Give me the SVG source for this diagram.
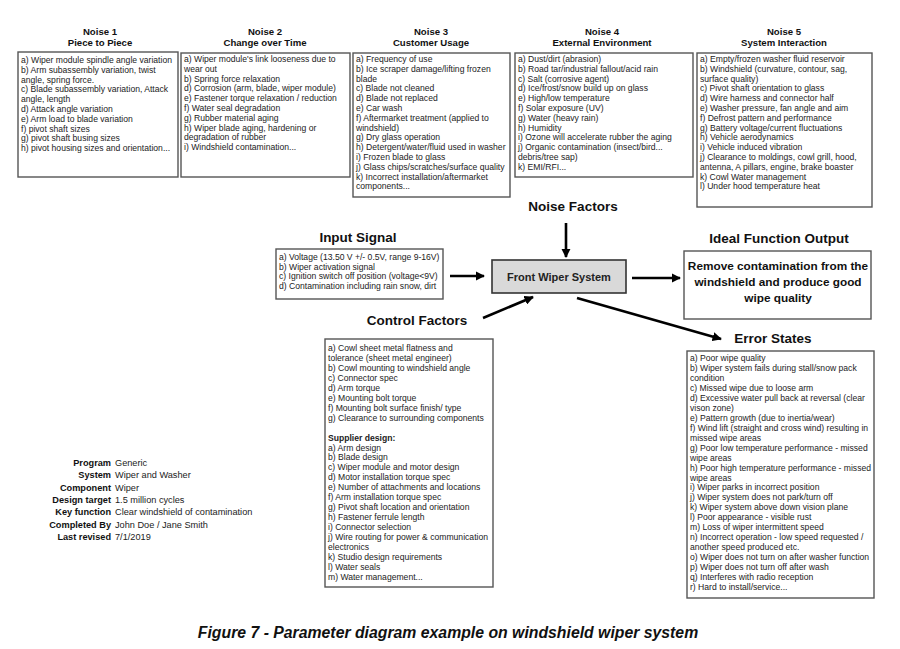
<svg xmlns="http://www.w3.org/2000/svg" width="900" height="649" viewBox="0 0 900 649">
<style>
.bg{fill:#fff}
.box{fill:#fff;stroke:#555;stroke-width:1.4}
.t{font-family:"Liberation Sans",Arial,sans-serif;font-size:8.6px;fill:#222}
.tb{font-family:"Liberation Sans",Arial,sans-serif;font-size:8.6px;fill:#222;font-weight:bold}
.nt{font-family:"Liberation Sans",Arial,sans-serif;font-size:9.6px;font-weight:bold;fill:#111;text-anchor:middle}
.h{font-family:"Liberation Sans",Arial,sans-serif;font-size:13.5px;font-weight:bold;fill:#111;text-anchor:middle}
.ideal{font-family:"Liberation Sans",Arial,sans-serif;font-size:11.8px;font-weight:bold;fill:#111;text-anchor:middle}
.lab{font-family:"Liberation Sans",Arial,sans-serif;font-size:9.2px;font-weight:bold;fill:#111;text-anchor:end}
.val{font-family:"Liberation Sans",Arial,sans-serif;font-size:9.2px;fill:#222}
.cap{font-family:"Liberation Sans",Arial,sans-serif;font-size:15.8px;font-weight:bold;font-style:italic;fill:#111;text-anchor:middle}
.arr{stroke:#000;stroke-width:2.6;fill:none;marker-end:url(#ah)}
</style>
<defs>
<marker id="ah" viewBox="0 0 10 10" refX="9" refY="5" markerWidth="3.6" markerHeight="3.6" orient="auto" markerUnits="strokeWidth">
<path d="M0,0 L10,5 L0,10 z" fill="#000"/>
</marker>
</defs>
<rect class="bg" x="0" y="0" width="900" height="649"/>

<g id="noise1">
<text class="nt" x="100" y="35">Noise 1</text>
<text class="nt" x="100" y="46">Piece to Piece</text>
<rect class="box" x="18" y="52" width="160" height="125"/>
<text class="t" x="21" y="63"><tspan x="21" dy="0">a) Wiper module spindle angle variation</tspan><tspan x="21" dy="9.8">b) Arm subassembly variation, twist</tspan><tspan x="21" dy="9.8">angle, spring force.</tspan><tspan x="21" dy="9.8">c) Blade subassembly variation, Attack</tspan><tspan x="21" dy="9.8">angle, length</tspan><tspan x="21" dy="9.8">d) Attack  angle variation</tspan><tspan x="21" dy="9.8">e) Arm load to  blade variation</tspan><tspan x="21" dy="9.8">f) pivot shaft sizes</tspan><tspan x="21" dy="9.8">g) pivot  shaft busing sizes</tspan><tspan x="21" dy="9.8">h) pivot housing sizes and orientation...</tspan></text>
</g>

<g id="noise2">
<text class="nt" x="265" y="35">Noise 2</text>
<text class="nt" x="265" y="46">Change over Time</text>
<rect class="box" x="181" y="53" width="169" height="124"/>
<text class="t" x="184" y="62"><tspan x="184" dy="0">a) Wiper module's link looseness due to</tspan><tspan x="184" dy="9.8">wear out</tspan><tspan x="184" dy="9.8">b) Spring force relaxation</tspan><tspan x="184" dy="9.8">d) Corrosion (arm, blade, wiper module)</tspan><tspan x="184" dy="9.8">e) Fastener torque relaxation / reduction</tspan><tspan x="184" dy="9.8">f) Water seal degradation</tspan><tspan x="184" dy="9.8">g) Rubber material aging</tspan><tspan x="184" dy="9.8">h) Wiper blade aging, hardening or</tspan><tspan x="184" dy="9.8">degradation of rubber</tspan><tspan x="184" dy="9.8">i) Windshield contamination...</tspan></text>
</g>

<g id="noise3">
<text class="nt" x="431" y="35">Noise 3</text>
<text class="nt" x="431" y="46">Customer Usage</text>
<rect class="box" x="353" y="53" width="157" height="144"/>
<text class="t" x="356" y="62"><tspan x="356" dy="0">a) Frequency of use</tspan><tspan x="356" dy="9.8">b) Ice scraper damage/lifting frozen</tspan><tspan x="356" dy="9.8">blade</tspan><tspan x="356" dy="9.8">c) Blade not cleaned</tspan><tspan x="356" dy="9.8">d) Blade not replaced</tspan><tspan x="356" dy="9.8">e) Car wash</tspan><tspan x="356" dy="9.8">f) Aftermarket treatment (applied to</tspan><tspan x="356" dy="9.8">windshield)</tspan><tspan x="356" dy="9.8">g) Dry glass operation</tspan><tspan x="356" dy="9.8">h) Detergent/water/fluid used in washer</tspan><tspan x="356" dy="9.8">i) Frozen  blade to glass</tspan><tspan x="356" dy="9.8">j) Glass chips/scratches/surface quality</tspan><tspan x="356" dy="9.8">k) Incorrect installation/aftermarket</tspan><tspan x="356" dy="9.8">components...</tspan></text>
</g>

<g id="noise4">
<text class="nt" x="602" y="35">Noise 4</text>
<text class="nt" x="602" y="46">External Environment</text>
<rect class="box" x="515" y="53" width="178" height="124"/>
<text class="t" x="518" y="62"><tspan x="518" dy="0">a) Dust/dirt (abrasion)</tspan><tspan x="518" dy="9.8">b) Road tar/industrial fallout/acid rain</tspan><tspan x="518" dy="9.8">c) Salt (corrosive agent)</tspan><tspan x="518" dy="9.8">d) Ice/frost/snow build up on glass</tspan><tspan x="518" dy="9.8">e) High/low temperature</tspan><tspan x="518" dy="9.8">f) Solar exposure (UV)</tspan><tspan x="518" dy="9.8">g) Water (heavy  rain)</tspan><tspan x="518" dy="9.8">h) Humidity</tspan><tspan x="518" dy="9.8">i) Ozone  will accelerate rubber the aging</tspan><tspan x="518" dy="9.8">j) Organic contamination (insect/bird...</tspan><tspan x="518" dy="9.8">debris/tree sap)</tspan><tspan x="518" dy="9.8">k) EMI/RFI...</tspan></text>
</g>

<g id="noise5">
<text class="nt" x="784" y="35">Noise 5</text>
<text class="nt" x="784" y="46">System Interaction</text>
<rect class="box" x="697" y="53" width="175" height="154"/>
<text class="t" x="700" y="62"><tspan x="700" dy="0">a) Empty/frozen  washer fluid reservoir</tspan><tspan x="700" dy="9.8">b) Windshield (curvature, contour, sag,</tspan><tspan x="700" dy="9.8">surface quality)</tspan><tspan x="700" dy="9.8">c) Pivot shaft orientation to glass</tspan><tspan x="700" dy="9.8">d) Wire harness and connector half</tspan><tspan x="700" dy="9.8">e) Washer pressure, fan angle and aim</tspan><tspan x="700" dy="9.8">f) Defrost pattern and performance</tspan><tspan x="700" dy="9.8">g) Battery voltage/current fluctuations</tspan><tspan x="700" dy="9.8">h) Vehicle aerodynamics</tspan><tspan x="700" dy="9.8">i) Vehicle induced vibration</tspan><tspan x="700" dy="9.8">j) Clearance to moldings, cowl grill, hood,</tspan><tspan x="700" dy="9.8">antenna, A pillars, engine, brake boaster</tspan><tspan x="700" dy="9.8">k) Cowl Water management</tspan><tspan x="700" dy="9.8">l) Under hood temperature heat</tspan></text>
</g>

<g id="noise-factors">
<text class="h" x="573" y="211">Noise Factors</text>
</g>

<g id="input-signal">
<text class="h" x="358" y="242">Input Signal</text>
<rect class="box" x="276" y="249" width="167" height="50"/>
<text class="t" x="279" y="260"><tspan x="279" dy="0">a) Voltage (13.50 V  +/- 0.5V,  range 9-16V)</tspan><tspan x="279" dy="9.7">b) Wiper activation signal</tspan><tspan x="279" dy="9.7">c) Ignition switch off position (voltage&lt;9V)</tspan><tspan x="279" dy="9.7">d) Contamination including rain snow, dirt</tspan></text>
</g>

<g id="system">
<rect x="492" y="260" width="134" height="33" fill="#d9d9d9" stroke="#333" stroke-width="1.6"/>
<text x="559" y="281" font-family="Liberation Sans, Arial, sans-serif" font-size="11" font-weight="bold" fill="#222" text-anchor="middle">Front Wiper  System</text>
</g>

<g id="ideal-output">
<text class="h" x="779" y="243">Ideal Function Output</text>
<rect class="box" x="684" y="251" width="187" height="68"/>
<text class="ideal" x="778" y="270">Remove contamination from the</text>
<text class="ideal" x="778" y="286">windshield and produce good</text>
<text class="ideal" x="778" y="302">wipe quality</text>
</g>

<g id="control-factors">
<text class="h" x="417" y="325">Control Factors</text>
<rect class="box" x="325" y="339" width="168" height="248"/>
<text class="t" x="328" y="351"><tspan x="328" dy="0">a) Cowl sheet metal flatness and</tspan><tspan x="328" dy="9.95">tolerance (sheet metal engineer)</tspan><tspan x="328" dy="9.95">b) Cowl mounting to windshield angle</tspan><tspan x="328" dy="9.95">c) Connector spec</tspan><tspan x="328" dy="9.95">d) Arm torque</tspan><tspan x="328" dy="9.95">e) Mounting bolt torque</tspan><tspan x="328" dy="9.95">f)  Mounting bolt surface finish/ type</tspan><tspan x="328" dy="9.95">g) Clearance to surrounding components</tspan><tspan x="328" dy="19.9" class="tb">Supplier design:</tspan><tspan x="328" dy="9.95">a) Arm design</tspan><tspan x="328" dy="9.95">b) Blade design</tspan><tspan x="328" dy="9.95">c) Wiper module and motor design</tspan><tspan x="328" dy="9.95">d) Motor installation torque spec</tspan><tspan x="328" dy="9.95">e) Number of attachments and locations</tspan><tspan x="328" dy="9.95">f) Arm installation torque spec</tspan><tspan x="328" dy="9.95">g) Pivot shaft location and orientation</tspan><tspan x="328" dy="9.95">h) Fastener ferrule length</tspan><tspan x="328" dy="9.95">i) Connector selection</tspan><tspan x="328" dy="9.95">j) Wire routing for power &amp; communication</tspan><tspan x="328" dy="9.95">electronics</tspan><tspan x="328" dy="9.95">k) Studio design requirements</tspan><tspan x="328" dy="9.95">l) Water seals</tspan><tspan x="328" dy="9.95">m) Water management...</tspan></text>
</g>

<g id="error-states">
<text class="h" x="773" y="343">Error States</text>
<rect class="box" x="687" y="351" width="187" height="247"/>
<text class="t" x="690" y="361"><tspan x="690" dy="0">a) Poor wipe quality</tspan><tspan x="690" dy="9.96">b) Wiper system fails during stall/snow pack</tspan><tspan x="690" dy="9.96">condition</tspan><tspan x="690" dy="9.96">c)  Missed wipe due to loose arm</tspan><tspan x="690" dy="9.96">d) Excessive water pull back at reversal (clear</tspan><tspan x="690" dy="9.96">vison zone)</tspan><tspan x="690" dy="9.96">e) Pattern growth (due to inertia/wear)</tspan><tspan x="690" dy="9.96">f) Wind lift  (straight and cross wind) resulting in</tspan><tspan x="690" dy="9.96">missed wipe areas</tspan><tspan x="690" dy="9.96">g) Poor low temperature performance - missed</tspan><tspan x="690" dy="9.96">wipe areas</tspan><tspan x="690" dy="9.96">h) Poor high temperature performance - missed</tspan><tspan x="690" dy="9.96">wipe areas</tspan><tspan x="690" dy="9.96">i) Wiper parks in incorrect position</tspan><tspan x="690" dy="9.96">j) Wiper system does not park/turn off</tspan><tspan x="690" dy="9.96">k) Wiper system above down vision plane</tspan><tspan x="690" dy="9.96">l) Poor appearance - visible rust</tspan><tspan x="690" dy="9.96">m) Loss of wiper intermittent speed</tspan><tspan x="690" dy="9.96">n) Incorrect operation - low speed requested /</tspan><tspan x="690" dy="9.96">another speed produced etc.</tspan><tspan x="690" dy="9.96">o) Wiper does not turn on after washer function</tspan><tspan x="690" dy="9.96">p) Wiper does not turn off after wash</tspan><tspan x="690" dy="9.96">q) Interferes with radio reception</tspan><tspan x="690" dy="9.96">r) Hard to install/service...</tspan></text>
</g>

<g id="connectors">
<line class="arr" x1="566" y1="223" x2="566" y2="257"/>
<line class="arr" x1="450" y1="276" x2="484" y2="276"/>
<line class="arr" x1="632" y1="278" x2="680" y2="278"/>
<line class="arr" x1="483" y1="318" x2="533" y2="297"/>
<line class="arr" x1="577" y1="298" x2="721" y2="339"/>
</g>

<g id="info">
<text class="lab" x="111" y="466">Program</text><text class="val" x="115" y="466">Generic</text>
<text class="lab" x="111" y="478.3">System</text><text class="val" x="115" y="478.3">Wiper and Washer</text>
<text class="lab" x="111" y="490.6">Component</text><text class="val" x="115" y="490.6">Wiper</text>
<text class="lab" x="111" y="502.9">Design target</text><text class="val" x="115" y="502.9">1.5 million cycles</text>
<text class="lab" x="111" y="515.2">Key function</text><text class="val" x="115" y="515.2">Clear windshield of contamination</text>
<text class="lab" x="111" y="527.5">Completed By</text><text class="val" x="115" y="527.5">John Doe / Jane Smith</text>
<text class="lab" x="111" y="539.8">Last revised</text><text class="val" x="115" y="539.8">7/1/2019</text>
</g>

<text class="cap" x="448" y="638">Figure 7 - Parameter diagram example on windshield wiper system</text>
</svg>
